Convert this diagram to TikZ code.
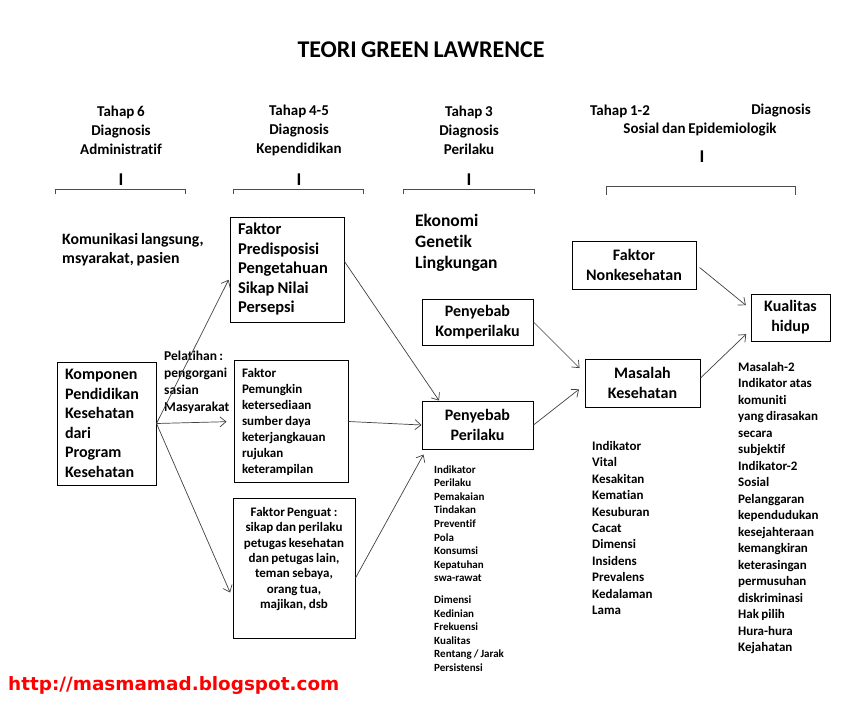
\documentclass[tikz,border=0pt]{standalone}
\usepackage{fontspec}
\setmainfont{Carlito}[Ligatures=NoCommon, WordSpace=0.8]
\newfontfamily\urlfont{DejaVu Sans}
\usetikzlibrary{arrows.meta}
\newcommand{\fsz}[2]{\fontsize{#1}{#2}\selectfont\bfseries}

\begin{document}
\begin{tikzpicture}[
      x=1pt, y=-1pt,
      box/.style={draw, line width=1pt, inner sep=0pt},
      txt/.style={inner sep=0pt, align=left, anchor=west},
      head/.style={inner sep=0pt, align=center, font=\fsz{15}{19}},
      bar/.style={inner sep=0pt, font=\fsz{18}{18}},
      arr/.style={-{Straight Barb[length=6pt,width=10pt]}, line width=0.7pt, black!75},
      brk/.style={line width=0.8pt, black!70}
    ]
    \useasboundingbox (0,0) rectangle (849,720);
    % Title
    \node[inner sep=0pt, font=\fsz{24}{28}] (title) at (421,50) {TEORI GREEN LAWRENCE};
    % Stage headers
    \node[head] (h6) at (121,130) {Tahap 6\\Diagnosis\\Administratif};
    \node[head] (h45) at (299,130) {Tahap 4-5\\Diagnosis\\Kependidikan};
    \node[head] (h3) at (469,130) {Tahap 3\\Diagnosis\\Perilaku};
    \node[head] (h12) at (620,111) {Tahap 1-2};
    \node[head] (h12b) at (781,111) {Diagnosis};
    \node[head] (h12c) at (700,130) {Sosial dan Epidemiologik};
    \node[bar] (b6) at (121,180) {I};
    \node[bar] (b45) at (299,180) {I};
    \node[bar] (b3) at (469,180) {I};
    \node[bar] (b12) at (702,157) {I};
    % Brackets
    \draw[brk] (55,194) -- (55,189) -- (185,189) -- (185,194);
    \draw[brk] (233,194) -- (233,189) -- (363,189) -- (363,194);
    \draw[brk] (403,194) -- (403,189) -- (534,189) -- (534,194);
    \draw[brk] (606,195) -- (606,186) -- (795,186) -- (795,195);
    % Boxes
    \node[box, minimum width=99, minimum height=123, text width=83, align=flush left, font=\fsz{16}{19.5}] (komp) at (106.5,423.5)
      {Komponen\\Pendidikan\\Kesehatan\\dari\\Program\\Kesehatan};
    \node[box, minimum width=114, minimum height=105, text width=98, align=flush left, font=\fsz{16.5}{19.5}] (pred) at (287,269.5)
      {Faktor\\Predisposisi\\Pengetahuan\\Sikap Nilai\\Persepsi};
    \node[box, minimum width=114, minimum height=122, text width=98, align=flush left, font=\fsz{13}{16}] (pem) at (291,421.5)
      {Faktor\\Pemungkin\\ketersediaan\\sumber daya\\keterjangkauan\\rujukan\\keterampilan};
    \node[box, minimum width=122, minimum height=140] (peng) at (294,568) {};
    \node[inner sep=0pt, align=center, font=\fsz{13}{15.3}] (pengtxt) at ([yshift=9pt]peng.center)
      {Faktor Penguat :\\sikap dan perilaku\\petugas kesehatan\\dan petugas lain,\\teman sebaya,\\orang tua,\\majikan, dsb};
    \node[box, minimum width=111, minimum height=46, align=center, font=\fsz{16}{20}] (komper) at (477.5,322)
      {Penyebab\\Komperilaku};
    \node[box, minimum width=111, minimum height=48, align=center, font=\fsz{16}{20}] (peril) at (477.5,425)
      {Penyebab\\Perilaku};
    \node[box, minimum width=124, minimum height=48, align=center, font=\fsz{16}{20}] (nonk) at (634,265)
      {Faktor\\Nonkesehatan};
    \node[box, minimum width=115, minimum height=48, align=center, font=\fsz{16}{20}] (masalah) at (642.5,383)
      {Masalah\\Kesehatan};
    \node[box, minimum width=79, minimum height=47, align=center, font=\fsz{16}{20}] (kual) at (790.5,317.5)
      {Kualitas\\hidup};
    % Free texts
    \node[txt, font=\fsz{15.8}{19}] (komun) at (62,249.5) {Komunikasi langsung,\\msyarakat, pasien};
    \node[txt, font=\fsz{13.5}{17}] (pelat) at (164,382.5) {Pelatihan :\\pengorgani\\sasian\\Masyarakat};
    \node[txt, font=\fsz{17.5}{21}] (eko) at (415,243) {Ekonomi\\Genetik\\Lingkungan};
    \node[txt, font=\fsz{11}{13.6}] (indper) at (434,568.5)
      {Indikator\\Perilaku\\Pemakaian\\Tindakan\\Preventif\\Pola\\Konsumsi\\Kepatuhan\\swa-rawat\\[8pt]Dimensi\\Kedinian\\Frekuensi\\Kualitas\\Rentang / Jarak\\Persistensi};
    \node[txt, font=\fsz{13}{16.4}] (indvit) at (592,528)
      {Indikator\\Vital\\Kesakitan\\Kematian\\Kesuburan\\Cacat\\Dimensi\\Insidens\\Prevalens\\Kedalaman\\Lama};
    \node[txt, font=\fsz{13}{16.5}] (mas2) at (738,508)
      {Masalah-2\\Indikator atas\\komuniti\\yang dirasakan\\secara\\subjektif\\Indikator-2\\Sosial\\Pelanggaran\\kependudukan\\kesejahteraan\\kemangkiran\\keterasingan\\permusuhan\\diskriminasi\\Hak pilih\\Hura-hura\\Kejahatan};
    % Connectors
    \draw[arr, shorten >=2pt] (komp.east) -- ([yshift=-8.5pt]pred.west);
    \draw[arr, shorten >=7pt] (komp.east) -- (pem.west);
    \draw[arr, shorten >=6pt] (komp.east) -- ([yshift=-30pt]peng.west);
    \draw[arr] ([yshift=8pt]pred.east) -- ([xshift=-38.5pt]peril.north);
    \draw[arr] (pem.east) -- (peril.west);
    \draw[arr] ([yshift=-10pt]peng.east) -- ([xshift=2pt,yshift=-5pt]peril.south west);
    \draw[arr, shorten >=7pt] (komper.east) -- ([yshift=10pt]masalah.west);
    \draw[arr, shorten >=7pt] (peril.east) -- ([yshift=-2pt]masalah.west);
    \draw[arr, shorten <=4pt, shorten >=6pt] (nonk.east) -- ([yshift=8.5pt]kual.west);
    \draw[arr, shorten >=6pt] ([yshift=5pt]masalah.east) -- ([yshift=-12.5pt]kual.west);
    % Source
    \node[inner sep=0pt, anchor=west, text=red, font=\urlfont\fontsize{18.4}{20}\selectfont\bfseries] (url) at (8,685)
      {http://masmamad.blogspot.com};
\end{tikzpicture}
\end{document}
